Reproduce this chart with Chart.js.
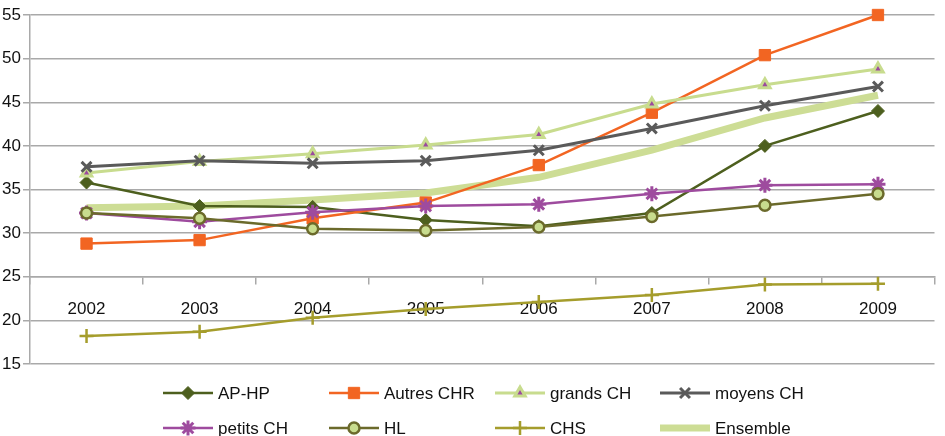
<!DOCTYPE html>
<html>
<head>
<meta charset="utf-8">
<script src="https://cdn.jsdelivr.net/npm/chart.js@4.4.1/dist/chart.umd.min.js"></script>
<style>
  html, body { margin: 0; padding: 0; background: #fff; }
  #wrap { width: 945px; height: 436px; position: relative; }
</style>
</head>
<body>
<div id="wrap"><canvas id="chart"></canvas></div>
<script>
// values
const years = ['2002', '2003', '2004', '2005', '2006', '2007', '2008', '2009'];
const apHp = [35.8, 33.1, 33.0, 31.5, 30.8, 32.3, 40.0, 44.0];
const autresChr = [28.8, 29.2, 31.7, 33.5, 37.8, 43.8, 50.4, 55.0];
const grandsCh = [36.9, 38.2, 39.1, 40.1, 41.3, 44.8, 47.0, 48.8];
const moyensCh = [37.6, 38.3, 38.0, 38.3, 39.5, 42.0, 44.6, 46.8];
const petitsCh = [32.3, 31.3, 32.4, 33.1, 33.3, 34.5, 35.5, 35.6];
const hl = [32.3, 31.7, 30.5, 30.3, 30.7, 31.9, 33.2, 34.5];
const chs = [18.2, 18.7, 20.3, 21.3, 22.1, 22.9, 24.1, 24.2];
const ensemble = [32.9, 33.1, 33.8, 34.6, 36.4, 39.5, 43.2, 45.8];
const yTicks = [15, 20, 25, 30, 35, 40, 45, 50, 55];

const FONT = '"Liberation Sans Narrow", "Arial Narrow", "Liberation Sans", Arial, sans-serif';
const FONT_SIZE = 17;
Chart.defaults.font.family = FONT;
Chart.defaults.font.size = FONT_SIZE;
Chart.defaults.color = '#111';

const gridGrey = '#a9a9a9';

function series(label, data, color, style, extra) {
    return Object.assign({
        label: label, data: data,
        borderColor: color, backgroundColor: color,
        borderWidth: 2.5, tension: 0, clip: false,
        pointStyle: style, pointRadius: 6, pointHoverRadius: 6,
        pointBorderColor: color, pointBackgroundColor: color, pointBorderWidth: 1
    }, extra || {});
}

const datasets = [
    series('AP-HP', apHp, '#4d5f1e', 'rectRot', { pointRadius: 6.5, order: 0 }),
    series('Autres CHR', autresChr, '#f26522', 'rect', { pointRadius: 8, order: -1 }),
    series('grands CH', grandsCh, '#c8dc8e', 'triangle', { borderWidth: 3, pointRadius: 6, pointBackgroundColor: '#9b4a9e', pointBorderColor: '#c8dc8e', pointBorderWidth: 3, order: -2 }),
    series('moyens CH', moyensCh, '#5a5a5a', 'crossRot', { borderWidth: 3, pointRadius: 7, pointBorderWidth: 3, order: -3 }),
    series('petits CH', petitsCh, '#9e4b9e', 'star', { pointRadius: 7.5, pointBorderWidth: 3, order: -4 }),
    series('HL', hl, '#6b6a2b', 'circle', { pointRadius: 5.5, pointBackgroundColor: '#c8dc8e', pointBorderWidth: 2.5, order: -5 }),
    series('CHS', chs, '#a59d2c', 'cross', { pointRadius: 7, pointBorderWidth: 2.5, order: -6 }),
    series('Ensemble', ensemble, '#cddd95', false, { borderWidth: 7, pointRadius: 0, order: 100 })
];

// legend in a fixed 4 x 2 grid, like the original
const gridLegend = {
    id: 'gridLegend',
    afterDraw(chart) {
        const ctx = chart.ctx;
        const cols = [163, 329, 495, 660];
        const rows = [393, 428];
        ctx.save();
        chart.data.datasets.forEach((ds, i) => {
            const x = cols[i % 4];
            const y = rows[Math.floor(i / 4)];
            ctx.strokeStyle = ds.borderColor;
            ctx.lineWidth = ds.borderWidth;
            ctx.beginPath();
            ctx.moveTo(x, y);
            ctx.lineTo(x + 50, y);
            ctx.stroke();
            if (ds.pointStyle) {
                ctx.fillStyle = ds.pointBackgroundColor;
                ctx.strokeStyle = ds.pointBorderColor;
                ctx.lineWidth = ds.pointBorderWidth;
                Chart.helpers.drawPoint(ctx, { pointStyle: ds.pointStyle, radius: ds.pointRadius, borderWidth: ds.pointBorderWidth, rotation: 0 }, x + 25, y);
            }
            ctx.fillStyle = '#111';
            ctx.font = FONT_SIZE + 'px ' + FONT;
            ctx.textBaseline = 'middle';
            ctx.textAlign = 'left';
            ctx.fillText(ds.label, x + 55, y + 1);
        });
        ctx.restore();
    }
};

new Chart(document.getElementById('chart'), {
    type: 'line',
    data: { labels: years, datasets: datasets },
    options: {
        responsive: true, maintainAspectRatio: false, animation: false,
        layout: { padding: { top: 15, bottom: 72, left: 0, right: 0 } },
        plugins: { legend: { display: false }, tooltip: { enabled: false } },
        scales: {
            x: {
                position: { y: 25 },
                offset: true,
                grid: { offset: true, drawOnChartArea: false, tickLength: 7, color: gridGrey, lineWidth: 1.5 },
                border: { color: gridGrey, width: 1.5 },
                ticks: { padding: 15, maxRotation: 0, color: '#111' }
            },
            y: {
                min: 15, max: 55,
                afterBuildTicks: s => { s.ticks = yTicks.map(v => ({ value: v })); },
                afterFit: s => { s.width = 30; },
                grid: { color: gridGrey, lineWidth: 1.5, tickLength: 7 },
                border: { color: gridGrey, width: 1.5 },
                ticks: { padding: 2, color: '#111' }
            }
        }
    },
    plugins: [gridLegend]
});
</script>
</body>
</html>
